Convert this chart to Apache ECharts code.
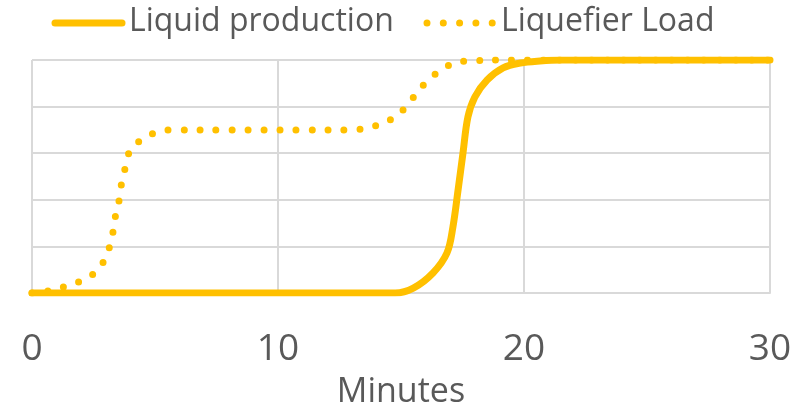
<!DOCTYPE html>
<html>
<head>
<meta charset="utf-8">
<script src="https://cdn.jsdelivr.net/npm/echarts@6/dist/echarts.min.js"></script>
<style>
  html, body { margin: 0; padding: 0; background: #fff; }
  #main { width: 803px; height: 408px; }
</style>
</head>
<body>
<div id="main"></div>
<script type="text/javascript">
    // minutes / % of full scale
    var loadX = [0, 0.65, 1.3, 1.9, 2.5, 2.9, 3.15, 3.3, 3.4, 3.55, 3.65, 3.8, 4.0, 4.5, 5.0, 5.7, 8, 11, 13.0, 13.6, 14.3, 14.85, 15.3, 15.7, 16.15, 16.7, 17.25, 17.9, 19.1, 30];
    var loadY = [0, 0.9, 2.6, 4.7, 8.2, 13.3, 19.7, 26.6, 33.5, 40.3, 47.6, 54.1, 61.4, 66.1, 68.7, 70, 70, 70, 70, 70.8, 73, 76.4, 81.1, 86.7, 91.8, 96.1, 99.1, 99.6, 100, 100];
    var prodX = [0, 10, 14.76, 15.5, 16.3, 16.87, 17.11, 17.32, 17.52, 17.72, 18.0, 18.5, 19.15, 19.85, 20.65, 21.5, 30];
    var prodY = [0, 0, 0, 2.1, 8.6, 17.2, 28.3, 44.2, 60.1, 75.5, 84.1, 91.4, 96.6, 98.7, 99.6, 100, 100];
    var seriesNames = ['Liquid production', 'Liquefier Load'];

    function pairs(xs, ys) {
        var out = [];
        for (var i = 0; i < xs.length; i++) out.push([xs[i], ys[i]]);
        return out;
    }

    var gold = '#FFC000';
    var grey = '#595959';
    var font = 'Open Sans';
    var myChart = echarts.init(document.getElementById('main'));
    var option = {
        animation: false,
        // legend drawn by hand so the keys look like the thick lines
        graphic: [
            { type: 'line', shape: { x1: 55, y1: 23, x2: 122, y2: 23 },
              style: { stroke: gold, lineWidth: 7, lineCap: 'round' } },
            { type: 'text', left: 129, top: 6,
              style: { text: seriesNames[0], font: '32px "Open Sans"', fill: grey } },
            { type: 'line', shape: { x1: 427, y1: 23, x2: 495, y2: 23 },
              style: { stroke: gold, lineWidth: 7, lineCap: 'round', lineDash: [0, 16.3] } },
            { type: 'text', left: 501, top: 6,
              style: { text: seriesNames[1], font: '32px "Open Sans"', fill: grey } }
        ],
        grid: { left: 32, right: 33, top: 60, bottom: 115, outerBoundsMode: 'none', containLabel: false },
        xAxis: {
            type: 'value',
            min: 0, max: 30, interval: 10,
            name: 'Minutes',
            nameLocation: 'middle',
            nameGap: 82,
            nameTextStyle: { fontFamily: font, fontSize: 34, color: grey },
            axisLine: { lineStyle: { color: '#d9d9d9', width: 2 } },
            axisTick: { show: false },
            axisLabel: { fontFamily: font, fontSize: 37, color: grey, margin: 38 },
            splitLine: { lineStyle: { color: '#d9d9d9', width: 2 } }
        },
        yAxis: {
            type: 'value',
            min: 0, max: 100, interval: 20,
            axisLine: { show: false },
            axisTick: { show: false },
            axisLabel: { show: false },
            splitLine: { lineStyle: { color: '#d9d9d9', width: 2 } }
        },
        series: [
            {
                name: seriesNames[1],
                type: 'line',
                symbol: 'none',
                smooth: 0.35,
                itemStyle: { color: gold },
                lineStyle: { color: gold, width: 7, type: [0, 16], cap: 'round' },
                data: pairs(loadX, loadY)
            },
            {
                name: seriesNames[0],
                type: 'line',
                symbol: 'none',
                smooth: 0.35,
                itemStyle: { color: gold },
                lineStyle: { color: gold, width: 7, cap: 'round' },
                data: pairs(prodX, prodY)
            }
        ]
    };

    myChart.setOption(option);
</script>
</body>
</html>
